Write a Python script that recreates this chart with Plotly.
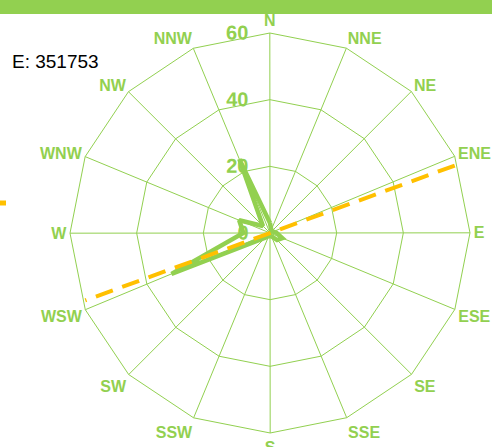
import plotly.graph_objects as go

directions = ["N", "NNE", "NE", "ENE", "E", "ESE", "SE", "SSE",
              "S", "SSW", "SW", "WSW", "W", "WNW", "NW", "NNW"]
frequency = [3, 1, 1, 1, 2, 4, 3, 1, 1, 1, 2, 32, 8, 10, 3, 24]
mean_dir_theta = [70, 250]
mean_dir_r = [59, 59]
radial_ticks = [0, 20, 40, 60]
energy_label = "E: 351753"

GREEN = "#92D050"
ORANGE = "#FFC000"
CLEAR = "rgba(0,0,0,0)"
FONT = "Liberation Sans, Arial, sans-serif"

W, H = 492, 447
L, T, SIZE = 70, 33, 400
ROT = 90.05

fig = go.Figure()
fig.add_trace(go.Scatterpolar(
    r=frequency + frequency[:1],
    theta=directions + directions[:1],
    mode="lines",
    line=dict(color=GREEN, width=4.5),
    hoverinfo="skip",
    subplot="polar",
))
fig.add_trace(go.Scatterpolar(
    r=mean_dir_r,
    theta=mean_dir_theta,
    mode="lines",
    line=dict(color=ORANGE, width=4, dash="18px,10px"),
    hoverinfo="skip",
    subplot="polar2",
))

fig.update_layout(
    template="none",
    width=W, height=H,
    margin=dict(l=L, r=W - L - SIZE, t=T, b=H - T - SIZE),
    paper_bgcolor="white",
    showlegend=False,
    hovermode=False,
    dragmode=False,
    polar=dict(
        domain=dict(x=[0, 1], y=[0, 1]),
        bgcolor="white",
        gridshape="linear",
        angularaxis=dict(
            type="category",
            categoryarray=directions,
            direction="clockwise",
            rotation=ROT,
            tickfont=dict(family=FONT, size=16, color=GREEN, weight="bold"),
            gridcolor=GREEN,
            gridwidth=1.05,
            linecolor=GREEN,
            linewidth=1,
            showline=True,
            ticks="",
        ),
        radialaxis=dict(
            range=[0, 60],
            tickmode="array",
            tickvals=radial_ticks,
            angle=90,
            side="counterclockwise",
            tickangle=90,
            tickfont=dict(family=FONT, size=20, color=GREEN, weight="bold"),
            gridcolor=GREEN,
            gridwidth=1,
            showline=False,
            linecolor=CLEAR,
            ticks="outside",
            ticklen=14,
            tickcolor=CLEAR,
        ),
    ),
    polar2=dict(
        domain=dict(x=[0, 1], y=[0, 1]),
        bgcolor=CLEAR,
        angularaxis=dict(direction="clockwise", rotation=ROT, visible=False,
                         showgrid=False, showline=False, showticklabels=False,
                         linecolor=CLEAR, gridcolor=CLEAR),
        radialaxis=dict(range=[0, 60], visible=False, showgrid=False,
                        showline=False, showticklabels=False,
                        linecolor=CLEAR, gridcolor=CLEAR),
    ),
    annotations=[
        dict(text=energy_label,
             x=(10 - L) / SIZE, y=1 - (61 - T) / SIZE,
             xref="paper", yref="paper",
             xanchor="left", yanchor="middle", showarrow=False,
             font=dict(family=FONT, size=19, color="black")),
    ],
)

fig.add_shape(type="rect", xref="paper", yref="paper",
              x0=-L / SIZE, x1=(W - L) / SIZE,
              y0=1 + (T - 14) / SIZE, y1=1 + T / SIZE,
              fillcolor=GREEN, line=dict(width=0), layer="above")
fig.add_shape(type="line", xref="paper", yref="paper",
              x0=-L / SIZE, x1=(6 - L) / SIZE,
              y0=1 - (203 - T) / SIZE, y1=1 - (203 - T) / SIZE,
              line=dict(color=ORANGE, width=5), layer="above")

fig.write_html("out.html", config={"displayModeBar": False},
               post_script="document.body.style.margin='0';")
